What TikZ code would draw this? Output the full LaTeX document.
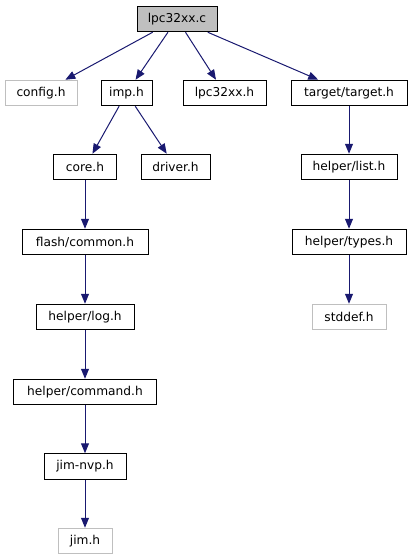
\documentclass[tikz,border=0pt]{standalone}
\usepackage{fontspec}
\setmainfont{DejaVu Sans}
\usetikzlibrary{arrows.meta}
\definecolor{edgec}{HTML}{191970}
\definecolor{grayc}{HTML}{BFBFBF}
\tikzset{
  box/.style={draw=black, line width=1pt, minimum height=25.5pt, inner sep=0pt, font=\fontsize{12.2}{14}\selectfont},
  graybox/.style={box, draw=grayc},
  mainbox/.style={box, fill=grayc},
  dep/.style={draw=edgec, line width=1pt, -{Triangle[length=10pt,width=8pt]}, color=edgec},
}
\begin{document}
\begin{tikzpicture}[x=1pt,y=-1pt]
\useasboundingbox (0,0) rectangle (413,560);
\node[mainbox, minimum width=80pt] (main) at (177,19) {lpc32xx.c};
\node[graybox, minimum width=72pt] (config) at (41,93) {config.h};
\node[box, minimum width=51pt] (imp) at (126.5,93) {imp.h};
\node[box, minimum width=83pt] (lpch) at (224.5,93) {lpc32xx.h};
\node[box, minimum width=116pt] (target) at (349,93) {target/target.h};
\node[box, minimum width=63pt] (core) at (85,167) {core.h};
\node[box, minimum width=69pt] (driver) at (175.5,167) {driver.h};
\node[box, minimum width=96pt] (list) at (349,167) {helper/list.h};
\node[box, minimum width=126pt] (common) at (85,242) {flash/common.h};
\node[box, minimum width=114pt] (types) at (349,242) {helper/types.h};
\node[box, minimum width=98pt] (log) at (85,317) {helper/log.h};
\node[graybox, minimum width=74pt] (stddef) at (349,317) {stddef.h};
\node[box, minimum width=143pt] (command) at (85,392) {helper/command.h};
\node[box, minimum width=82pt] (jimnvp) at (85,466.5) {jim-nvp.h};
\node[graybox, minimum width=54pt] (jim) at (85,541) {jim.h};
\draw[dep] (main) -- (config);
\draw[dep] (main) -- (imp);
\draw[dep] (main) -- (lpch);
\draw[dep] (main) -- (target);
\draw[dep] (imp) -- (core);
\draw[dep] (imp) -- (driver);
\draw[dep] (target) -- (list);
\draw[dep] (core) -- (common);
\draw[dep] (list) -- (types);
\draw[dep] (common) -- (log);
\draw[dep] (types) -- (stddef);
\draw[dep] (log) -- (command);
\draw[dep] (command) -- (jimnvp);
\draw[dep] (jimnvp) -- (jim);
\end{tikzpicture}
\end{document}
